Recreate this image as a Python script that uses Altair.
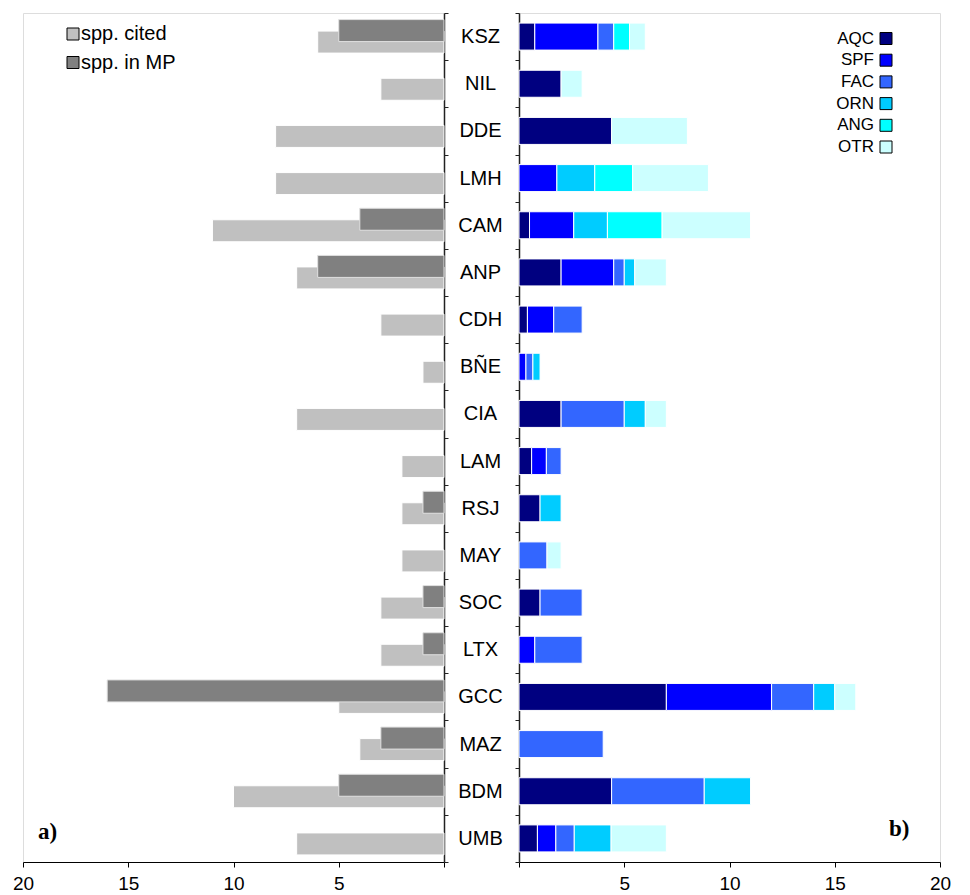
import altair as alt
import pandas as pd

# ---------------- data ----------------
cats = ["KSZ", "NIL", "DDE", "LMH", "CAM", "ANP", "CDH", "BÑE", "CIA",
        "LAM", "RSJ", "MAY", "SOC", "LTX", "GCC", "MAZ", "BDM", "UMB"]

spp_cited = [6, 3, 8, 8, 11, 7, 3, 1, 7, 2, 2, 2, 3, 3, 5, 4, 10, 7]
spp_in_mp = [5, 0, 0, 0, 4, 6, 0, 0, 0, 0, 1, 0, 1, 1, 16, 3, 5, 0]

groups = ["AQC", "SPF", "FAC", "ORN", "ANG", "OTR"]
group_colors = ["#000080", "#0000FF", "#3366FF", "#00CCFF", "#00FFFF", "#CCFFFF"]
AQC = [0.75, 2, 4.4, 0, 0.5, 2, 0.4, 0, 2, 0.6, 1, 0, 1, 0, 7, 0, 4.4, 0.875]
SPF = [3, 0, 0, 1.8, 2.1, 2.5, 1.25, 0.33, 0, 0.7, 0, 0, 0, 0.75, 5, 0, 0, 0.875]
FAC = [0.75, 0, 0, 0, 0, 0.5, 1.35, 0.33, 3, 0.7, 0, 1.33, 2, 2.25, 2, 4, 4.4, 0.875]
ORN = [0, 0, 0, 1.8, 1.6, 0.5, 0, 0.34, 1, 0, 1, 0, 0, 0, 1, 0, 2.2, 1.75]
ANG = [0.75, 0, 0, 1.8, 2.6, 0, 0, 0, 0, 0, 0, 0, 0, 0, 0, 0, 0, 0]
OTR = [0.75, 1, 3.6, 3.6, 4.2, 1.5, 0, 0, 1, 0, 0, 0.67, 0, 0, 1, 0, 0, 2.625]

series_names = ["spp. cited", "spp. in MP"]
series_colors = ["#C0C0C0", "#808080"]
panel_labels = ["a)", "b)"]

# ---------------- tables ----------------
left_rows = []
for c, a, b in zip(cats, spp_cited, spp_in_mp):
    left_rows.append({"cat": c, "series": series_names[0], "value": a})
    left_rows.append({"cat": c, "series": series_names[1], "value": b})
left_df = pd.DataFrame(left_rows)
left_df = left_df[left_df["value"] > 0]

right_rows = []
for gi, (g, vals) in enumerate(zip(groups, [AQC, SPF, FAC, ORN, ANG, OTR])):
    for c, v in zip(cats, vals):
        if v > 0:
            right_rows.append({"cat": c, "group": g, "gidx": gi, "value": v})
right_df = pd.DataFrame(right_rows)
legend_df = pd.DataFrame({"group": groups})
series_legend_df = pd.DataFrame({"series": series_names})

W, H = 421, 849
FONT = "Liberation Sans"

x_axis_common = dict(values=[0, 5, 10, 15, 20],
                     labelExpr="datum.value == 0 ? '' : datum.label",
                     title=None, grid=False, tickSize=5, labelFontSize=19,
                     labelPadding=7, labelFlush=False,
                     domainColor="black", tickColor="black",
                     labelColor="black", labelFont=FONT, domainWidth=1.2)

# ---------------- left panel ----------------
series_scale = alt.Scale(domain=series_names, range=series_colors)
left_color = alt.Color("series:N", scale=series_scale, legend=None)

left_x = alt.X("value:Q",
               scale=alt.Scale(domain=[0, 20], reverse=True, nice=False),
               axis=alt.Axis(**x_axis_common))
left_y = alt.Y("cat:N", sort=cats,
               scale=alt.Scale(domain=cats, paddingInner=0, paddingOuter=0),
               axis=alt.Axis(orient="right", labels=False, tickBand="extent",
                             tickSize=4, title=None, domainColor="#222222",
                             tickColor="#222222", domainWidth=1.5))
left_y_noaxis = alt.Y("cat:N", sort=cats,
                      scale=alt.Scale(domain=cats, paddingInner=0, paddingOuter=0),
                      axis=None)

left_base = alt.Chart(left_df)
light = left_base.transform_filter(alt.datum.series == series_names[0]).mark_bar(
    size=22, yOffset=5.5, stroke="white", strokeWidth=1
).encode(x=left_x, y=left_y, color=left_color)
dark = left_base.transform_filter(alt.datum.series == series_names[1]).mark_bar(
    size=22, yOffset=-6, stroke="#E0E0E0", strokeWidth=1
).encode(x=left_x, y=left_y_noaxis, color=left_color)

sleg_y = alt.Y("series:N", sort=series_names,
               scale=alt.Scale(type="point", domain=series_names, range=[21, 49.5], padding=0),
               axis=None)
sleg_sq = alt.Chart(series_legend_df).mark_square(size=144, stroke="black", strokeWidth=1,
                                                  opacity=1).encode(
    x=alt.value(50), y=sleg_y, color=left_color)
sleg_tx = alt.Chart(series_legend_df).mark_text(align="left", baseline="middle",
                                                fontSize=20, font=FONT, color="black").encode(
    x=alt.value(58), y=sleg_y, text="series:N")

lab_a = alt.Chart(pd.DataFrame({"t": [panel_labels[0]]})).mark_text(
    font="Liberation Serif", fontWeight="bold", fontSize=23, align="left",
    baseline="alphabetic", color="black"
).encode(text="t:N", x=alt.value(15), y=alt.value(826))

left = alt.layer(light, dark, sleg_sq, sleg_tx, lab_a).resolve_scale(
    y="independent").properties(width=W, height=H)

# ---------------- right panel ----------------
right_x = alt.X("value:Q", stack="zero",
                scale=alt.Scale(domain=[0, 20], nice=False),
                axis=alt.Axis(**x_axis_common))
right_y = alt.Y("cat:N", sort=cats,
                scale=alt.Scale(domain=cats, paddingInner=0, paddingOuter=0),
                axis=alt.Axis(orient="left", tickBand="extent", tickSize=4,
                              title=None, domainColor="#222222",
                              tickColor="#222222", domainWidth=1.5,
                              labelAlign="center", labelBaseline="middle",
                              labelPadding=35, labelFontSize=20,
                              labelFont=FONT, labelColor="black"))
group_scale = alt.Scale(domain=groups, range=group_colors)

bars = alt.Chart(right_df).mark_bar(size=27, stroke="white", strokeWidth=1).encode(
    x=right_x, y=right_y,
    color=alt.Color("group:N", scale=group_scale, legend=None),
    order=alt.Order("gidx:Q", sort="ascending"))

leg_y = alt.Y("group:N", sort=groups,
              scale=alt.Scale(type="point", domain=groups, range=[25.5, 134], padding=0),
              axis=None)
leg_sq = alt.Chart(legend_df).mark_square(size=144, stroke="black", strokeWidth=1,
                                          opacity=1).encode(
    x=alt.value(367), y=leg_y,
    color=alt.Color("group:N", scale=group_scale, legend=None))
leg_tx = alt.Chart(legend_df).mark_text(align="right", baseline="middle",
                                        fontSize=17, font=FONT, color="black").encode(
    x=alt.value(355), y=leg_y, text="group:N")

lab_b = alt.Chart(pd.DataFrame({"t": [panel_labels[1]]})).mark_text(
    font="Liberation Serif", fontWeight="bold", fontSize=23, align="left",
    baseline="alphabetic", color="black"
).encode(text="t:N", x=alt.value(370), y=alt.value(823))

right = alt.layer(bars, leg_sq, leg_tx, lab_b).resolve_scale(y="independent").properties(
    width=W, height=H)

chart = alt.hconcat(left, right, spacing=8).resolve_scale(
    color="independent", x="independent", y="independent"
).properties(
    padding={"left": 3, "top": -6, "right": 5, "bottom": 0}
).configure_view(strokeWidth=0, stroke="transparent").configure(font=FONT)

chart.save("out.html", embed_options={"renderer": "svg", "actions": False})
